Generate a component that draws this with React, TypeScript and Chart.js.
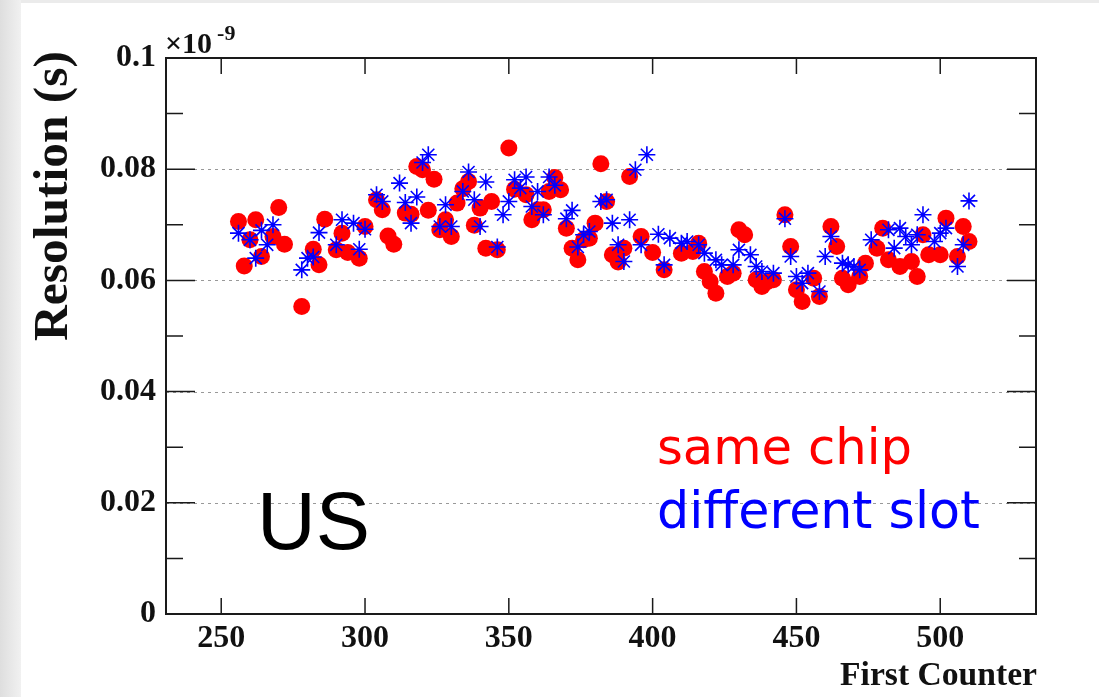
import React, { useEffect, useRef } from "react";
import { Chart, registerables } from "chart.js";

Chart.register(...registerables);

const W = 1099;
const H = 697;

// First counter index (x) for every measured pair
const counters = [
  256, 258, 260, 262, 264, 266, 268, 270, 272, 274, 276, 278, 280, 282, 284, 286,
  288, 290, 292, 294, 296, 298, 300, 302, 304, 306, 308, 310, 312, 314, 316, 318,
  320, 322, 324, 326, 328, 330, 332, 334, 336, 338, 340, 342, 344, 346, 348, 350,
  352, 354, 356, 358, 360, 362, 364, 366, 368, 370, 372, 374, 376, 378, 380, 382,
  384, 386, 388, 390, 392, 394, 396, 398, 400, 402, 404, 406, 408, 410, 412, 414,
  416, 418, 420, 422, 424, 426, 428, 430, 432, 434, 436, 438, 440, 442, 444, 446,
  448, 450, 452, 454, 456, 458, 460, 462, 464, 466, 468, 470, 472, 474, 476, 478,
  480, 482, 484, 486, 488, 490, 492, 494, 496, 498, 500, 502, 504, 506, 508, 510,
];

// Resolution in units of 1e-9 s ("same chip", red circles)
const sameChip = [
  0.0706, 0.0626, 0.0673, 0.0709, 0.0643, null, 0.0679, 0.0731, 0.0665, null, null, 0.0553, null, 0.0656, 0.0628, 0.0710,
  null, 0.0655, 0.0685, 0.0650, null, 0.0640, 0.0697, null, 0.0745, 0.0727, 0.0680, 0.0665, null, 0.0721, 0.0719, 0.0805,
  0.0799, 0.0726, 0.0782, 0.0691, 0.0709, 0.0679, 0.0739, 0.0765, 0.0778, 0.0699, 0.0730, 0.0658, 0.0742, 0.0655, null, 0.0838,
  0.0764, null, 0.0754, 0.0709, 0.0727, 0.0727, 0.0760, 0.0785, 0.0763, 0.0694, 0.0658, 0.0637, 0.0673, 0.0676, 0.0703, 0.0810,
  0.0742, 0.0646, 0.0633, 0.0658, 0.0787, null, 0.0679, null, 0.0650, null, 0.0619, null, null, 0.0649, null, 0.0652,
  0.0667, 0.0616, 0.0598, 0.0577, null, 0.0607, 0.0613, 0.0691, 0.0682, null, 0.0601, 0.0589, 0.0598, 0.0601, null, 0.0718,
  0.0661, 0.0583, 0.0562, null, 0.0604, 0.0571, null, 0.0697, 0.0661, 0.0604, 0.0592, null, 0.0607, 0.0631, null, 0.0658,
  0.0694, 0.0637, null, 0.0625, null, 0.0634, 0.0607, 0.0682, 0.0646, null, 0.0646, 0.0712, null, 0.0643, 0.0697, 0.0670,
];

// Resolution in units of 1e-9 s ("different slot", blue asterisks)
const differentSlot = [
  0.0685, null, 0.0673, 0.0640, 0.0690, 0.0664, 0.0700, null, null, null, null, 0.0619, 0.0640, 0.0642, 0.0686, null,
  null, 0.0664, 0.0709, null, 0.0703, 0.0656, 0.0692, null, 0.0754, 0.0742, null, null, 0.0775, 0.0740, 0.0703, 0.0750,
  0.0812, 0.0826, null, 0.0697, 0.0736, 0.0697, null, 0.0760, 0.0795, 0.0745, 0.0697, 0.0777, null, 0.0660, 0.0718, 0.0742,
  0.0781, 0.0766, 0.0786, 0.0733, 0.0760, 0.0718, 0.0786, 0.0771, null, 0.0711, 0.0726, 0.0660, 0.0682, 0.0688, null, 0.0742,
  0.0745, 0.0703, 0.0664, 0.0634, 0.0709, 0.0799, 0.0664, 0.0826, null, 0.0683, 0.0628, 0.0676, null, 0.0667, 0.0670, null,
  0.0664, 0.0649, null, 0.0637, 0.0628, null, 0.0628, 0.0655, null, 0.0646, 0.0625, 0.0616, null, 0.0613, null, 0.0711,
  0.0643, 0.0607, 0.0595, 0.0613, null, 0.0580, 0.0643, 0.0679, null, 0.0631, 0.0628, 0.0625, 0.0619, null, 0.0673, null,
  null, 0.0691, 0.0658, 0.0694, 0.0679, 0.0664, 0.0682, 0.0718, null, 0.0670, 0.0685, 0.0694, null, 0.0625, 0.0664, 0.0743,
];

const xTicks = [250, 300, 350, 400, 450, 500];
const yMajorTicks = [0, 0.02, 0.04, 0.06, 0.08, 0.1];
const yMinorTicks = [0.01, 0.03, 0.05, 0.07, 0.09];
const xRange = [230.8, 533.3];
const yRange = [0, 0.1];

const SERIF = '"Liberation Serif", "Times New Roman", serif';
const SANS = '"DejaVu Sans", sans-serif';

function fitFont(ctx: CanvasRenderingContext2D, text: string, weight: string, family: string, width: number) {
  ctx.font = `${weight} 100px ${family}`;
  const w = ctx.measureText(text).width;
  return `${weight} ${((100 * width) / w).toFixed(2)}px ${family}`;
}

const rootStyle = {
  id: "rootStyle",
  beforeDraw(chart: any) {
    const ctx: CanvasRenderingContext2D = chart.ctx;
    ctx.save();
    ctx.fillStyle = "#ebebeb";
    ctx.fillRect(0, 0, W, H);
    const g = ctx.createLinearGradient(0, 0, 21, 0);
    g.addColorStop(0, "#dedede");
    g.addColorStop(1, "#f1f1f1");
    ctx.fillStyle = g;
    ctx.fillRect(0, 0, 21, H);
    ctx.fillStyle = "#ffffff";
    ctx.fillRect(21, 3, W - 21, H - 3);
    ctx.restore();
  },
  beforeDatasetsDraw(chart: any) {
    const ctx: CanvasRenderingContext2D = chart.ctx;
    const { left, right } = chart.chartArea;
    const ys = chart.scales.y;
    ctx.save();
    ctx.strokeStyle = "#999999";
    ctx.lineWidth = 1;
    ctx.setLineDash([3, 4]);
    yMajorTicks.forEach((v) => {
      if (v <= yRange[0] || v >= yRange[1]) return;
      const py = Math.round(ys.getPixelForValue(v)) + 0.5;
      ctx.beginPath();
      ctx.moveTo(left, py);
      ctx.lineTo(right, py);
      ctx.stroke();
    });
    ctx.restore();
  },
  afterDatasetsDraw(chart: any) {
    const ctx: CanvasRenderingContext2D = chart.ctx;
    const { left, right, top, bottom } = chart.chartArea;
    const xs = chart.scales.x;
    const ys = chart.scales.y;
    ctx.save();
    // ticks (inward, ROOT style)
    ctx.strokeStyle = "#1a1a1a";
    ctx.lineWidth = 1.5;
    ctx.beginPath();
    yMajorTicks.forEach((v) => {
      const py = ys.getPixelForValue(v);
      ctx.moveTo(left, py);
      ctx.lineTo(left + 29, py);
      ctx.moveTo(right, py);
      ctx.lineTo(right - 29, py);
    });
    yMinorTicks.forEach((v) => {
      const py = ys.getPixelForValue(v);
      ctx.moveTo(left, py);
      ctx.lineTo(left + 17, py);
      ctx.moveTo(right, py);
      ctx.lineTo(right - 17, py);
    });
    xTicks.forEach((v) => {
      const px = xs.getPixelForValue(v);
      ctx.moveTo(px, bottom);
      ctx.lineTo(px, bottom - 16);
      ctx.moveTo(px, top);
      ctx.lineTo(px, top + 16);
    });
    ctx.stroke();
    // frame
    ctx.strokeStyle = "#1a1a1a";
    ctx.lineWidth = 2;
    ctx.strokeRect(left, top, right - left, bottom - top);

    // exponent
    ctx.fillStyle = "#111";
    ctx.textBaseline = "alphabetic";
    ctx.textAlign = "left";
    ctx.font = `bold 30px ${SERIF}`;
    ctx.fillText("×10", 165, 53);
    const ew = ctx.measureText("×10").width;
    ctx.font = `bold 22px ${SERIF}`;
    ctx.fillText("-9", 165 + ew + 5, 40);

    // y title
    ctx.save();
    ctx.translate(54, 196);
    ctx.rotate(-Math.PI / 2);
    ctx.textAlign = "center";
    ctx.textBaseline = "middle";
    ctx.font = fitFont(ctx, "Resolution (s)", "bold", SERIF, 290);
    ctx.fillText("Resolution (s)", 0, 0);
    ctx.restore();

    // x title
    ctx.textAlign = "right";
    ctx.textBaseline = "alphabetic";
    ctx.font = fitFont(ctx, "First Counter", "bold", SERIF, 197);
    ctx.fillText("First Counter", 1037, 685);

    // annotations
    ctx.textAlign = "left";
    ctx.fillStyle = "#000000";
    ctx.font = fitFont(ctx, "US", "normal", '"Liberation Sans", Arial, sans-serif', 113);
    ctx.fillText("US", 257, 549);
    ctx.fillStyle = "#ff0000";
    ctx.font = fitFont(ctx, "same chip", "normal", SANS, 255);
    ctx.fillText("same chip", 657, 464);
    ctx.fillStyle = "#0000ff";
    ctx.font = fitFont(ctx, "different slot", "normal", SANS, 323);
    ctx.fillText("different slot", 657, 528);
    ctx.restore();
  },
};

export default function App() {
  const ref = useRef<HTMLCanvasElement>(null);

  useEffect(() => {
    const canvas = ref.current;
    if (!canvas) return;
    const toPoints = (vals: (number | null)[]) =>
      counters
        .map((x, i) => ({ x, y: vals[i] }))
        .filter((p) => p.y !== null) as { x: number; y: number }[];

    const tickFont = { family: SERIF, weight: "bold" as const, size: 32 };

    const chart = new Chart(canvas, {
      type: "scatter",
      data: {
        datasets: [
          {
            label: "different slot",
            data: toPoints(differentSlot),
            pointStyle: "star",
            pointRadius: 8.5,
            pointBorderColor: "#0000ff",
            pointBackgroundColor: "#0000ff",
            pointBorderWidth: 1.6,
          },
          {
            label: "same chip",
            data: toPoints(sameChip),
            pointStyle: "circle",
            pointRadius: 8.5,
            pointBackgroundColor: "#ff0000",
            pointBorderColor: "#ff0000",
            pointBorderWidth: 0,
          },
        ],
      },
      options: {
        responsive: false,
        animation: false,
        devicePixelRatio: 1,
        events: [],
        layout: { padding: { top: 58, right: 63, left: 0, bottom: 0 } },
        plugins: { legend: { display: false }, tooltip: { enabled: false } },
        scales: {
          x: {
            type: "linear",
            min: xRange[0],
            max: xRange[1],
            grid: { display: false },
            border: { display: false },
            ticks: { font: tickFont, color: "#111", padding: -2, callback: (v: any) => String(v) },
            afterBuildTicks: (s: any) => {
              s.ticks = xTicks.map((v) => ({ value: v }));
            },
            afterFit: (s: any) => {
              s.height = 83;
            },
          },
          y: {
            type: "linear",
            min: yRange[0],
            max: yRange[1],
            grid: { display: false },
            border: { display: false },
            ticks: {
              font: tickFont,
              color: "#111",
              padding: 2,
              callback: (v: any) => {
                const n = Number(v);
                return n === 0 ? "0" : String(parseFloat(n.toFixed(2)));
              },
            },
            afterBuildTicks: (s: any) => {
              s.ticks = yMajorTicks.map((v) => ({ value: v }));
            },
            afterFit: (s: any) => {
              s.width = 166;
            },
          },
        },
      },
      plugins: [rootStyle],
    });
    return () => chart.destroy();
  }, []);

  return (
    <div style={{ position: "fixed", left: 0, top: 0, width: W, height: H, background: "#fff" }}>
      <canvas ref={ref} width={W} height={H} style={{ display: "block", width: W, height: H }} />
    </div>
  );
}
